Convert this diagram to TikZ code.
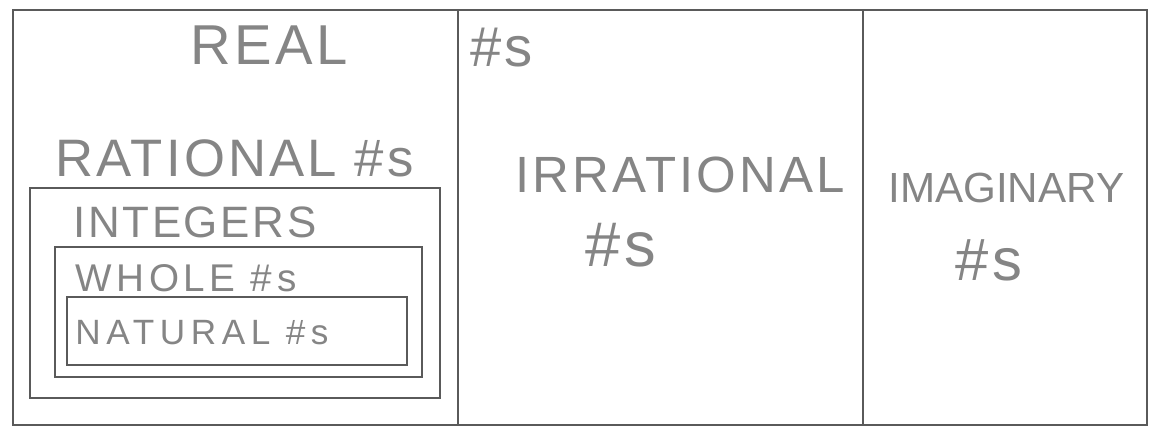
\documentclass[tikz,border=0pt]{standalone}
\usepackage{fontspec}
\setmainfont{Liberation Sans}[LetterSpace=6]
\usepackage{tikz}
\definecolor{pencil}{HTML}{5A5A5A}
\definecolor{lead}{HTML}{858585}
\newcommand{\penfont}[1]{\fontsize{#1}{#1}\selectfont}
\tikzset{
  setline/.style={draw=pencil, line width=1.3pt},
  setlabel/.style={text=lead, inner sep=0pt, anchor=west}
}

\begin{document}
\begin{tikzpicture}[x=0.02cm, y=-0.02cm]
    \useasboundingbox (0,0) rectangle (1155,429);
    % the three columns
    \draw[setline] (13,10) rectangle (1147,425);
    \draw[setline] (458,10) -- (458,425);
    \draw[setline] (863,10) -- (863,425);
    % nested boxes of the rationals
    \draw[setline] (30,188) rectangle (440,398);
    \draw[setline] (55,247) rectangle (422,377);
    \draw[setline] (67,297) rectangle (407,365);
    % labels
    \node[setlabel, font=\penfont{32}] (real) at (190,45) {REAL};
    \node[setlabel, font=\penfont{32}] (realnum) at (470,48) {\#s};
    \node[setlabel, font=\penfont{30}] (rational) at (55,158) {RATIONAL \#s};
    \node[setlabel, font=\penfont{25}] (integers) at (73,222) {INTEGERS};
    \node[setlabel, font=\penfont{22}\addfontfeature{LetterSpace=12}] (whole) at (75,278) {WHOLE \#s};
    \node[setlabel, font=\penfont{20}\addfontfeature{LetterSpace=16}] (natural) at (75,333) {NATURAL \#s};
    \node[setlabel, font=\penfont{29}] (irrational) at (515,175) {IRRATIONAL};
    \node[setlabel, font=\penfont{36}] (irrnum) at (585,245) {\#s};
    \node[setlabel, font=\penfont{24}\addfontfeature{LetterSpace=0}] (imaginary) at (888,188) {IMAGINARY};
    \node[setlabel, font=\penfont{34}] (imagnum) at (955,260) {\#s};
\end{tikzpicture}
\end{document}
